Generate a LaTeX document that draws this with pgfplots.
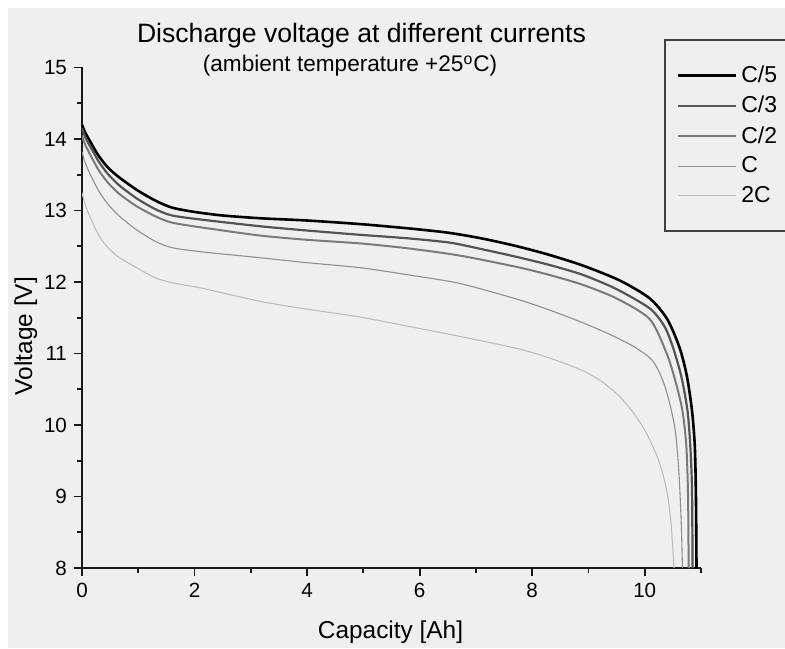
\documentclass[border=0pt]{standalone}
\usepackage{fontspec}
\setmainfont{Liberation Sans}
\usepackage{pgfplots}
\pgfplotsset{compat=1.18}

\definecolor{panel}{gray}{0.937}
\definecolor{cfive}{gray}{0.0}
\definecolor{cthree}{gray}{0.33}
\definecolor{ctwo}{gray}{0.48}
\definecolor{cone}{gray}{0.56}
\definecolor{ctwoC}{gray}{0.74}

\begin{document}
\begin{tikzpicture}
\useasboundingbox (0pt,0pt) rectangle (392.5pt,324pt);
\clip (0pt,0pt) rectangle (392.5pt,324pt);
\fill[white] (0pt,0pt) rectangle (392.5pt,324pt);
\fill[panel] (4pt,0pt) rectangle (392.5pt,320pt);

\begin{axis}[
  at={(41pt,40pt)}, anchor=south west,
  scale only axis, width=309.5pt, height=250.25pt,
  xmin=0, xmax=11, ymin=8, ymax=15,
  axis lines=left,
  axis line style={-, line width=1pt, black!90},
  xtick={0,2,...,10}, minor xtick={1,3,...,11},
  ytick={8,...,15}, minor ytick={8.5,9.5,...,14.5},
  tick align=outside,
  major tick length=4pt, minor tick length=2.5pt,
  every tick/.style={line width=0.9pt, black!90},
  ticklabel style={font=\fontsize{10.3}{11}\selectfont},
  /pgf/number format/assume math mode=true,
  legend cell align=left,
  legend image code/.code={\draw[#1] (0pt,0pt) -- (29pt,0pt);},
  legend style={at={(rel axis cs:0.940,1.057)}, anchor=north west,
    draw=black!75, line width=0.9pt, fill=none,
    font=\fontsize{11.5}{12}\selectfont,
    inner xsep=6pt, inner ysep=11pt, row sep=1.3pt},
  every axis plot/.append style={smooth, tension=0.45},
]
% C/5
\addplot[cfive, line width=1.3pt] table {
x y
0 14.20
0.05 14.10
0.12 14.00
0.2 13.89
0.3 13.76
0.45 13.61
0.65 13.47
0.97 13.29
1.3 13.14
1.6 13.04
2.0 12.98
2.5 12.93
3.2 12.89
4.0 12.86
4.94 12.81
5.8 12.75
6.5 12.69
7.1 12.61
7.73 12.50
8.3 12.38
8.9 12.23
9.56 12.02
10.09 11.77
10.4 11.48
10.62 11.08
10.75 10.68
10.84 10.20
10.89 9.70
10.91 9.00
10.92 8.00
};
\addlegendentry{\makebox[60pt][l]{C/5}}
% C/3
\addplot[cthree, line width=1.1pt] table {
x y
0 14.15
0.05 14.04
0.12 13.93
0.2 13.82
0.3 13.68
0.45 13.52
0.65 13.36
0.97 13.17
1.3 13.02
1.6 12.93
2.15 12.87
3.16 12.78
4.0 12.72
4.94 12.66
5.8 12.61
6.54 12.55
7.1 12.46
7.73 12.35
8.3 12.24
8.9 12.10
9.5 11.90
10.09 11.63
10.35 11.38
10.5 11.09
10.65 10.68
10.76 10.20
10.81 9.70
10.84 9.10
10.85 8.00
};
\addlegendentry{C/3}
% C/2
\addplot[ctwo, line width=1pt] table {
x y
0 14.05
0.05 13.93
0.12 13.82
0.2 13.70
0.3 13.56
0.45 13.40
0.65 13.24
0.97 13.06
1.3 12.92
1.6 12.83
2.15 12.76
3.16 12.65
4.0 12.59
4.94 12.54
5.8 12.47
6.71 12.37
7.73 12.21
8.3 12.10
8.9 11.96
9.5 11.77
10.09 11.48
10.39 11.00
10.55 10.60
10.67 10.20
10.74 9.70
10.77 9.00
10.78 8.00
};
\addlegendentry{C/2}
% C
\addplot[cone, line width=0.55pt] table {
x y
0 13.82
0.05 13.68
0.12 13.55
0.2 13.42
0.3 13.27
0.45 13.10
0.65 12.93
0.97 12.73
1.3 12.57
1.6 12.48
2.15 12.42
3.16 12.34
4.0 12.27
4.94 12.20
5.8 12.10
6.71 11.98
7.73 11.76
8.3 11.61
8.9 11.43
9.4 11.26
9.8 11.10
10.09 10.94
10.22 10.80
10.35 10.56
10.46 10.25
10.55 9.88
10.61 9.30
10.65 8.60
10.67 8.00
};
\addlegendentry{C}
% 2C
\addplot[ctwoC, line width=0.55pt] table {
x y
0 13.25
0.05 13.10
0.12 12.95
0.2 12.81
0.3 12.65
0.45 12.49
0.65 12.35
0.97 12.20
1.3 12.06
1.6 11.99
2.15 11.91
3.16 11.73
4.0 11.62
4.94 11.51
5.8 11.38
6.71 11.24
7.73 11.07
8.3 10.94
8.9 10.76
9.25 10.60
9.55 10.40
9.8 10.17
10.02 9.90
10.21 9.58
10.32 9.32
10.41 9.00
10.47 8.60
10.52 8.00
};
\addlegendentry{2C}
\end{axis}

\node[anchor=base, font=\fontsize{13.3}{15}\selectfont] at (180.75pt,302.5pt)
  {Discharge voltage at different currents};
\node[anchor=base, font=\fontsize{11.3}{13}\selectfont] at (175pt,288pt)
  {(ambient temperature +25\textsuperscript{o}C)};
\node[anchor=base, font=\fontsize{12.2}{14}\selectfont] at (195.25pt,5pt)
  {Capacity [Ah]};
\node[anchor=base, rotate=90, font=\fontsize{12.2}{14}\selectfont] at (16pt,156pt)
  {Voltage [V]};
\end{tikzpicture}
\end{document}
